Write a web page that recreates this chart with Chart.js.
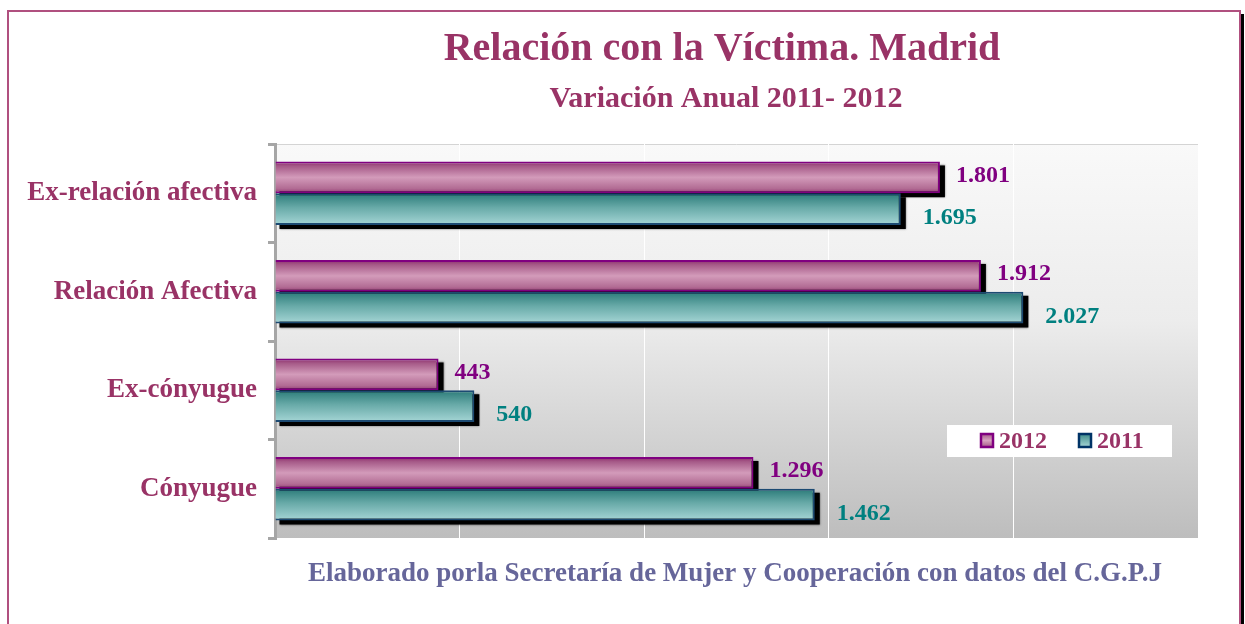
<!DOCTYPE html>
<html><head><meta charset="utf-8">
<script src="https://cdn.jsdelivr.net/npm/chart.js@4.4.1/dist/chart.umd.min.js"></script>
<style>html,body{margin:0;padding:0;background:#fff;overflow:hidden}#wrap{width:1245px;height:624px;position:relative}</style>
</head><body><div id="wrap"><canvas id="c"></canvas></div>
<script>
const categories = ['Ex-relación afectiva', 'Relación Afectiva', 'Ex-cónyugue', 'Cónyugue'];
const values2012 = [1801, 1912, 443, 1296];
const values2011 = [1695, 2027, 540, 1462];
const seriesLabels = ['2012', '2011'];
const xMax = 2500;
const xStep = 500;
const titleText = 'Relación con la Víctima. Madrid';
const subtitleText = 'Variación Anual 2011- 2012';
const footerText = 'Elaborado porla Secretaría de Mujer y Cooperación con datos del C.G.P.J';

const SERIF = '"Liberation Serif", "Times New Roman", serif';
const CAT_PCT = 0.645;
const fmt = n => String(n).replace(/\B(?=(\d{3})+(?!\d))/g, '.');

function barGradient(ctx, dsIndex) {
  const chart = ctx.chart;
  const y = chart.scales && chart.scales.y;
  const area = chart.chartArea;
  const base = dsIndex === 0 ? '#c080a8' : '#70b0b0';
  if (!y || !area) return base;
  const yc = y.getPixelForValue(ctx.dataIndex);
  const catW = area.height / categories.length * CAT_PCT;
  const top = dsIndex === 0 ? yc - catW / 2 : yc;
  const bot = top + catW / 2;
  const g = chart.ctx.createLinearGradient(0, top, 0, bot);
  if (dsIndex === 0) {
    g.addColorStop(0, '#8c2c6c');
    g.addColorStop(0.15, '#a65a88');
    g.addColorStop(0.5, '#d39bba');
    g.addColorStop(0.85, '#b26c94');
    g.addColorStop(1, '#933a74');
  } else {
    g.addColorStop(0, '#2a7a78');
    g.addColorStop(0.45, '#68aaa8');
    g.addColorStop(1, '#a6d6d6');
  }
  return g;
}

const decoPlugin = {
  id: 'deco',
  beforeDraw(chart) {
    const c = chart.ctx, a = chart.chartArea;
    c.save();
    c.fillStyle = '#000';
    c.fillRect(1240, 14, 4, 620);
    c.strokeStyle = '#b0507f';
    c.lineWidth = 2;
    c.strokeRect(8, 11, 1232, 640);
    const g = c.createLinearGradient(0, a.top, 0, a.bottom);
    g.addColorStop(0, '#f9f9f9');
    g.addColorStop(0.45, '#ececec');
    g.addColorStop(1, '#bdbdbd');
    c.fillStyle = g;
    c.fillRect(a.left, a.top, a.right - a.left, a.bottom - a.top);
    c.strokeStyle = '#d4d4d4';
    c.lineWidth = 1;
    c.beginPath(); c.moveTo(a.left, a.top + 0.5); c.lineTo(a.right, a.top + 0.5); c.stroke();
    c.textAlign = 'center';
    c.textBaseline = 'middle';
    c.fillStyle = '#993366';
    c.font = 'bold 40px ' + SERIF;
    c.fillText(titleText, 722, 50);
    c.font = 'bold 30px ' + SERIF;
    c.fillText(subtitleText, 726, 99);
    c.fillStyle = '#66669a';
    c.font = 'bold 27px ' + SERIF;
    c.fillText(footerText, 735, 574);
    c.restore();
  },
  beforeDatasetsDraw(chart) {
    const c = chart.ctx;
    c.save();
    c.fillStyle = '#000';
    c.shadowColor = 'rgba(0,0,0,0.5)';
    c.shadowBlur = 2;
    chart.data.datasets.forEach((ds, i) => {
      chart.getDatasetMeta(i).data.forEach(el => {
        const h = el.height;
        c.fillRect(el.base + 4, el.y - h / 2 + 4, el.x - el.base + 1, h);
      });
    });
    c.restore();
  },
  afterDatasetsDraw(chart) {
    const c = chart.ctx;
    c.save();
    c.font = 'bold 24px ' + SERIF;
    c.textAlign = 'left';
    c.textBaseline = 'middle';
    chart.data.datasets.forEach((ds, i) => {
      c.fillStyle = i === 0 ? '#800080' : '#008080';
      chart.getDatasetMeta(i).data.forEach((el, j) => {
        const dy = i === 0 ? -2 : 9;
        const dx = i === 0 ? 16 : 22;
        c.fillText(fmt(ds.data[j]), el.x + dx, el.y + dy);
      });
    });
    c.fillStyle = '#ffffff';
    c.fillRect(947, 425, 225, 32);
    const items = [
      {x: 981, tx: 999},
      {x: 1079, tx: 1097}
    ];
    items.forEach((it, k) => {
      const sg = c.createLinearGradient(0, 434, 0, 447);
      if (k === 0) { sg.addColorStop(0, '#a65a88'); sg.addColorStop(0.5, '#d7a3c0'); sg.addColorStop(1, '#a65a88'); }
      else { sg.addColorStop(0, '#3f8c8a'); sg.addColorStop(1, '#a6d6d6'); }
      c.fillStyle = sg;
      c.fillRect(it.x, 434, 12, 13);
      c.strokeStyle = k === 0 ? '#800080' : '#003366';
      c.lineWidth = 2.5;
      c.strokeRect(it.x, 434, 12, 13);
      c.fillStyle = '#993366';
      c.font = 'bold 24px ' + SERIF;
      c.fillText(chart.data.datasets[k].label, it.tx, 442);
    });
    c.restore();
  }
};

new Chart(document.getElementById('c'), {
  type: 'bar',
  data: {
    labels: categories,
    datasets: [
      {label: seriesLabels[0], data: values2012, backgroundColor: ctx => barGradient(ctx, 0), borderColor: '#800080', borderWidth: 2},
      {label: seriesLabels[1], data: values2011, backgroundColor: ctx => barGradient(ctx, 1), borderColor: '#1c4a72', borderWidth: 2}
    ]
  },
  options: {
    indexAxis: 'y',
    responsive: true,
    maintainAspectRatio: false,
    animation: false,
    datasets: {bar: {categoryPercentage: CAT_PCT, barPercentage: 1.0, borderSkipped: 'start'}},
    layout: {padding: {left: 0, right: 47, top: 144, bottom: 86}},
    plugins: {legend: {display: false}, tooltip: {enabled: false}, title: {display: false}},
    scales: {
      x: {
        min: 0, max: xMax,
        ticks: {display: false, stepSize: xStep},
        grid: {color: '#ffffff', lineWidth: 1, drawTicks: false},
        border: {display: false},
        afterFit: s => { s.height = 0; }
      },
      y: {
        ticks: {color: '#993366', font: {family: SERIF, size: 27, weight: 'bold'}, padding: 11},
        grid: {drawOnChartArea: false, drawTicks: true, tickLength: 7, color: '#a6a6a6', lineWidth: 3},
        border: {display: true, color: '#a6a6a6', width: 3},
        afterFit: s => { s.width = 275; }
      }
    }
  },
  plugins: [decoPlugin]
});
</script>
</body></html>
